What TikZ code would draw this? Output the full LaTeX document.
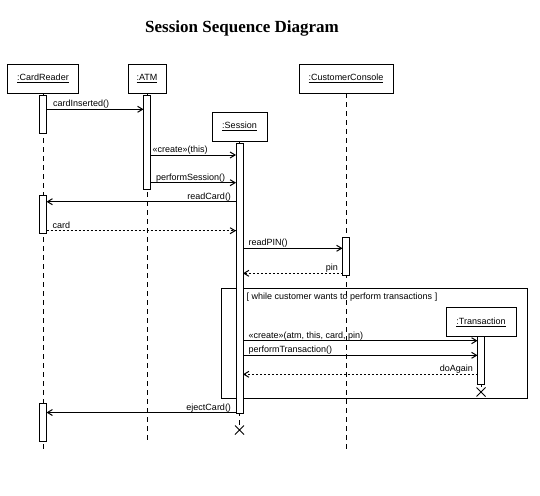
\documentclass[tikz,border=0pt]{standalone}
\usepackage{fontspec}
\setmainfont{Liberation Sans}
\newfontfamily\titlefont{Liberation Serif}
\usetikzlibrary{arrows.meta,shapes.misc}
\begin{document}
\begin{tikzpicture}[x=1pt,y=-1pt,line width=1pt,
  obj/.style={draw, fill=white, inner sep=0pt, outer sep=0pt, minimum height=29pt, font=\fontsize{9}{10}\selectfont},
  act/.style={draw, fill=white, inner sep=0pt, outer sep=0pt, minimum width=7pt, anchor=north},
  life/.style={dash pattern=on 5pt off 4pt},
  msg/.style={-{Straight Barb[length=5pt,width=6pt]}},
  ret/.style={msg, dash pattern=on 2pt off 2pt},
  lbl/.style={font=\fontsize{9}{10}\selectfont, inner sep=0pt},
  lblr/.style={lbl, pos=0, anchor=base west, yshift=2.5pt},
  lbll/.style={lbl, pos=0, anchor=base east, yshift=2.5pt},
  xmark/.style={draw, cross out, minimum size=9pt, inner sep=0pt, outer sep=0pt, line width=0.8pt}]
\useasboundingbox (0,0) rectangle (540,495);

% title
\node[font=\titlefont\bfseries\fontsize{17}{20}\selectfont, anchor=base, inner sep=0pt] (title) at (242,32.3) {Session Sequence Diagram};

% objects
\node[obj, minimum width=71pt] (cr) at (43,78.5) {\underline{:CardReader}};
\node[obj, minimum width=38pt] (atm) at (147,78.5) {\underline{:ATM}};
\node[obj, minimum width=55pt] (ses) at (239.5,126.7) {\underline{:Session}};
\node[obj, minimum width=94pt] (cc) at (346,78.5) {\underline{:CustomerConsole}};
\node[obj, minimum width=70pt] (tr) at (481,322) {\underline{:Transaction}};

% destruction marks and lifeline ends
\node[xmark] (sesX) at (239.5,430) {};
\node[xmark] (trX) at (481,392) {};
\coordinate (crEnd) at (43,452);
\coordinate (atmEnd) at (147,443);
\coordinate (ccEnd) at (346,450);

% lifelines
\draw[life] (cr) -- (crEnd);
\draw[life] (atm) -- (atmEnd);
\draw[life] (ses) -- (sesX);
\draw[life] (cc) -- (ccEnd);
\draw[life] (tr) -- (trX);

% loop frame
\node[draw, inner sep=0pt, outer sep=0pt, anchor=north west, minimum width=305.6pt, minimum height=110pt] (loop) at (221.7,288.3) {};
\node[lbl, anchor=base west] (cond) at (246.2,299) {[ while customer wants to perform transactions ]};

% activations
\node[act, minimum height=38pt] (crA1) at (43,95) {};
\node[act, minimum height=94pt] (atmA) at (147,95) {};
\node[act, minimum height=270pt] (sesA) at (239.5,143) {};
\node[act, minimum height=38pt] (crA2) at (43,195.5) {};
\node[act, minimum height=38.4pt] (ccA) at (346,237.3) {};
\node[act, minimum height=47.6pt] (trA) at (481,336.7) {};
\node[act, minimum height=38.4pt] (crA3) at (43,403.3) {};

% messages
\draw[msg] (crA1.east |- 0,109.3) -- (atmA.west |- 0,109.3) node[lblr, xshift=6pt] {cardInserted()};
\draw[msg] (atmA.east |- 0,155) -- (sesA.west |- 0,155) node[lblr, xshift=1.5pt] {«create»(this)};
\draw[msg] (atmA.east |- 0,182.7) -- (sesA.west |- 0,182.7) node[lblr, xshift=5pt] {performSession()};
\draw[msg] (sesA.west |- 0,201.7) -- (crA2.east |- 0,201.7) node[lbll, xshift=-4.5pt] {readCard()};
\draw[ret] (crA2.east |- 0,230.7) -- (sesA.west |- 0,230.7) node[lblr, xshift=5.5pt] {card};
\draw[msg] (sesA.east |- 0,248.3) -- (ccA.west |- 0,248.3) node[lblr, xshift=5pt] {readPIN()};
\draw[ret] (ccA.west |- 0,273.3) -- (sesA.east |- 0,273.3) node[lbll, xshift=-4pt] {pin};
\draw[msg] (sesA.east |- 0,340.7) -- (trA.west |- 0,340.7) node[lblr, xshift=5pt] {«create»(atm, this, card, pin)};
\draw[msg] (sesA.east |- 0,355.3) -- (trA.west |- 0,355.3) node[lblr, xshift=5pt] {performTransaction()};
\draw[ret] (trA.west |- 0,374.3) -- (sesA.east |- 0,374.3) node[lbll, xshift=-4pt] {doAgain};
\draw[msg] (sesA.west |- 0,412.5) -- (crA3.east |- 0,412.5) node[lbll, xshift=-4.5pt] {ejectCard()};
\end{tikzpicture}
\end{document}
